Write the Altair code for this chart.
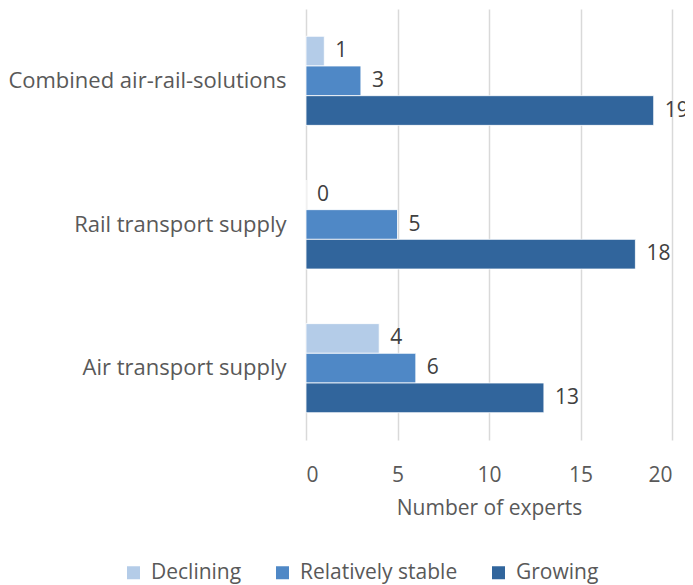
import altair as alt
import pandas as pd

categories = ["Combined air-rail-solutions", "Rail transport supply", "Air transport supply"]
series = ["Declining", "Relatively stable", "Growing"]
declining = [1, 0, 4]
stable = [3, 5, 6]
growing = [19, 18, 13]
colors = ["#B4CCE8", "#4F88C6", "#31659C"]

rows = []
for i, c in enumerate(categories):
    for s, vals in zip(series, [declining, stable, growing]):
        rows.append({"category": c, "series": s, "value": vals[i]})
df = pd.DataFrame(rows)

FONT = "Open Sans"
FS = 21

y_enc = alt.Y("category:N", sort=categories, title=None,
              scale=alt.Scale(paddingInner=0.38, paddingOuter=0.19),
              axis=alt.Axis(labelFontSize=22, labelColor="#595959", labelFont=FONT,
                            labelPadding=20, ticks=False, domain=False, labelLimit=400))
yoff = alt.YOffset("series:N", sort=series)

base = alt.Chart(df)

bars = base.mark_bar(stroke="#FFFFFF", strokeWidth=0.8).encode(
    x=alt.X("value:Q", scale=alt.Scale(domain=[0, 20]), title="Number of experts",
            axis=alt.Axis(values=[0, 5, 10, 15, 20], grid=True, gridColor="#D9D9D9",
                          gridWidth=1.5, domain=False, ticks=False, labelFontSize=FS,
                          labelColor="#595959", labelFont=FONT, labelPadding=24,
                          titleFontSize=FS, titleColor="#595959", titleFont=FONT,
                          titleFontWeight="normal", titlePadding=12)),
    y=y_enc,
    yOffset=yoff,
    color=alt.Color("series:N", sort=series,
                    scale=alt.Scale(domain=series, range=colors),
                    legend=alt.Legend(title=None, orient="none", direction="horizontal",
                                      legendX=-183, legendY=553,
                                      labelFontSize=FS, labelColor="#595959", labelFont=FONT,
                                      symbolType="square", symbolSize=169, symbolStrokeWidth=0,
                                      columnPadding=30, labelOffset=7)),
)

labels = base.mark_text(align="left", baseline="middle", dx=11, fontSize=FS,
                        font=FONT, color="#404040").encode(
    x="value:Q",
    y=alt.Y("category:N", sort=categories),
    yOffset=yoff,
    text="value:Q",
)

chart = (bars + labels).properties(
    width=366, height=431,
    autosize=alt.AutoSizeParams(type="none"),
    padding={"left": 298, "top": 1, "right": 13, "bottom": 150},
).configure_view(stroke=None)

chart.save("out.html", embed_options={"renderer": "svg", "actions": False})
